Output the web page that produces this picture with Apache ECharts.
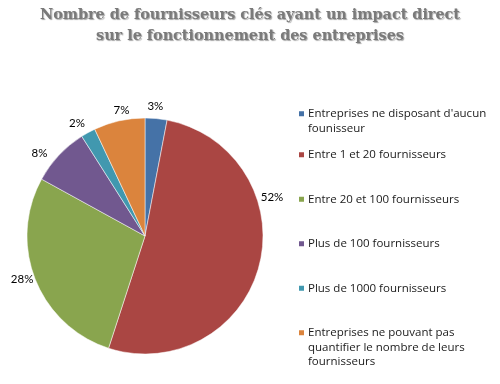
<!DOCTYPE html>
<html><head><meta charset="utf-8">
<script src="https://cdn.jsdelivr.net/npm/echarts@6/dist/echarts.min.js"></script>
<style>html,body{margin:0;padding:0;background:#fff}#c{width:500px;height:384px}</style>
</head><body><div id="c"></div>
<script>
// ---- data ----
const categories = [
  "Entreprises ne disposant d'aucun founisseur",
  "Entre 1 et 20 fournisseurs",
  "Entre 20 et 100 fournisseurs",
  "Plus de 100 fournisseurs",
  "Plus de 1000 fournisseurs",
  "Entreprises ne pouvant pas quantifier le nombre de leurs fournisseurs"
];
const legendLines = [
  ["Entreprises ne disposant d'aucun", "founisseur"],
  ["Entre 1 et 20 fournisseurs"],
  ["Entre 20 et 100 fournisseurs"],
  ["Plus de 100 fournisseurs"],
  ["Plus de 1000 fournisseurs"],
  ["Entreprises ne pouvant pas", "quantifier le nombre de leurs", "fournisseurs"]
];
const values = [3, 52, 28, 8, 2, 7];
const titleText = "Nombre de fournisseurs clés ayant un impact direct\nsur le fonctionnement des entreprises";

// ---- style / layout ----
const colors = ['#4572A7', '#AA4643', '#89A54E', '#71588F', '#4198AF', '#DB843D'];
const CX = 145, CY = 236, R = 118;
const LABEL_GAP = 5;
const LABEL_NUDGE = {0: [-2, -1], 1: [-3, -71], 2: [2, -4], 3: [-10, 6], 4: [-5, 0], 5: [5, 0]};
const LEG_LEFT = 297, LEG_LH = 14.5, ICON = 7;
const legendIconTops = [110, 151, 195.5, 240, 284.5, 329];
const legendFont = 'Open Sans';

const total = values.reduce((a, b) => a + b, 0);

const legends = legendLines.map((lines, i) => {
  const n = lines.length;
  return {
    data: [categories[i]],
    orient: 'vertical',
    left: LEG_LEFT,
    top: legendIconTops[i] - 2.25,
    padding: 0,
    icon: 'rect',
    itemWidth: ICON,
    itemHeight: ICON,
    selectedMode: false,
    formatter: () => lines.map(l => '{t|' + l + '}').join('\n'),
    textStyle: {
      padding: [(n - 1) * LEG_LH, 0, 0, -2],
      rich: { t: { fontFamily: legendFont, fontSize: 11.5, lineHeight: LEG_LH, color: '#1a1a1a' } }
    }
  };
});

const chart = echarts.init(document.getElementById('c'), null, {renderer: 'canvas'});
chart.setOption({
  animation: false,
  color: colors,
  title: {
    text: titleText,
    left: 'center',
    top: 0,
    textStyle: {
      fontFamily: 'DejaVu Serif',
      fontWeight: 'bold',
      fontSize: 14.4,
      lineHeight: 21,
      color: '#7a7a7a',
      textShadowColor: 'rgba(0,0,0,0.35)',
      textShadowOffsetX: 1,
      textShadowOffsetY: 1,
      textShadowBlur: 1
    }
  },
  legend: legends,
  series: [{
    type: 'pie',
    center: [CX, CY],
    radius: R,
    startAngle: 90,
    clockwise: true,
    avoidLabelOverlap: false,
    emphasis: { scale: false },
    itemStyle: { borderColor: '#ffffff', borderWidth: 0.5 },
    data: categories.map((n, i) => ({ name: n, value: values[i] })),
    label: {
      show: true,
      position: 'outside',
      formatter: p => Math.round(p.percent) + '%',
      fontFamily: 'Lato',
      fontSize: 11.5,
      color: '#000'
    },
    labelLine: { show: false, length: 0, length2: 0 },
    labelLayout: function (params) {
      const i = params.dataIndex;
      let cum = 0;
      for (let j = 0; j < i; j++) cum += values[j];
      const theta = (cum + values[i] / 2) / total * 2 * Math.PI;
      const dx = Math.sin(theta), dy = -Math.cos(theta);
      const w = params.labelRect.width, h = params.labelRect.height;
      const d = R + LABEL_GAP;
      const nd = LABEL_NUDGE[i] || [0, 0];
      return {
        x: CX + d * dx + dx * w / 2 + nd[0],
        y: CY + d * dy + dy * h / 2 + nd[1],
        align: 'center',
        verticalAlign: 'middle'
      };
    }
  }]
});
</script>
</body></html>
